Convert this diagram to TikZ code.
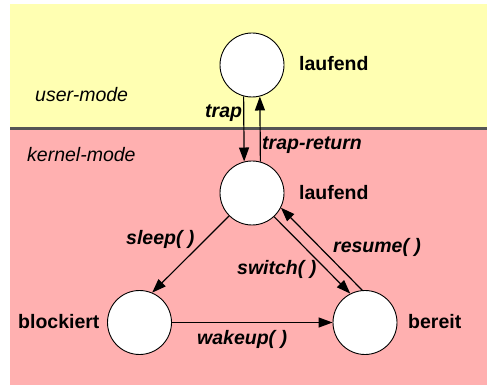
\documentclass[tikz,border=0pt]{standalone}
\usepackage{fontspec}
\setmainfont{Liberation Sans}
\usetikzlibrary{arrows.meta}
\definecolor{usercol}{RGB}{255,255,178}
\definecolor{kernelcol}{RGB}{255,176,176}
\definecolor{sepcol}{RGB}{85,85,85}
\tikzset{
  state/.style={circle, draw=black, line width=0.9pt, fill=white, minimum size=64pt, inner sep=0pt},
  statelabel/.style={anchor=base west, inner sep=0pt, font=\fontsize{19.5}{22}\selectfont\bfseries},
  modelabel/.style={anchor=base west, inner sep=0pt, font=\fontsize{19.5}{22}\selectfont\itshape},
  translabel/.style={anchor=base west, inner sep=0pt, font=\fontsize{19.5}{22}\selectfont\bfseries\itshape},
  trans/.style={line width=1.2pt, -{Triangle[length=14pt,width=10pt]}}
}
\begin{document}
\begin{tikzpicture}[x=1pt,y=-1pt]
  \useasboundingbox (0,0) rectangle (487,387);
  % mode areas
  \fill[usercol] (10,4) rectangle (487,129);
  \fill[kernelcol] (10,129) rectangle (487,385);
  \draw[sepcol, line width=3pt] (10,129) -- (487,129);

  % states
  \node[state] (top) at (252,65) {};
  \node[state] (mid) at (252,193) {};
  \node[state] (blk) at (139.5,322.5) {};
  \node[state] (ber) at (365,322.5) {};

  % state names
  \node[statelabel] (ltop) at (299,71) {laufend};
  \node[statelabel] (lmid) at (299,200) {laufend};
  \node[statelabel] (lblk) at (18,328) {blockiert};
  \node[statelabel] (lber) at (408,328) {bereit};

  % mode names
  \node[modelabel] (um) at (35,102) {user-mode};
  \node[modelabel] (km) at (27,162) {kernel-mode};

  % transitions
  \draw[trans] (top.255.5) -- (mid.104.5);
  \draw[trans] (mid.75.5) -- (top.284.5);
  \draw[trans] (mid.225) -- (blk.67);
  \draw[trans] (mid.313) -- (ber.117);
  \draw[trans] (ber.95) -- (mid.333);
  \draw[trans] (blk.east) -- (ber.west);

  % transition names
  \node[translabel] (ttrap) at (205,118) {trap};
  \node[translabel] (tret) at (262,150) {trap-return};
  \node[translabel] (tsleep) at (126,245) {sleep( )};
  \node[translabel] (tresume) at (333,253) {resume( )};
  \node[translabel] (tswitch) at (237,275) {switch( )};
  \node[translabel] (twake) at (197,344) {wakeup( )};
\end{tikzpicture}
\end{document}
